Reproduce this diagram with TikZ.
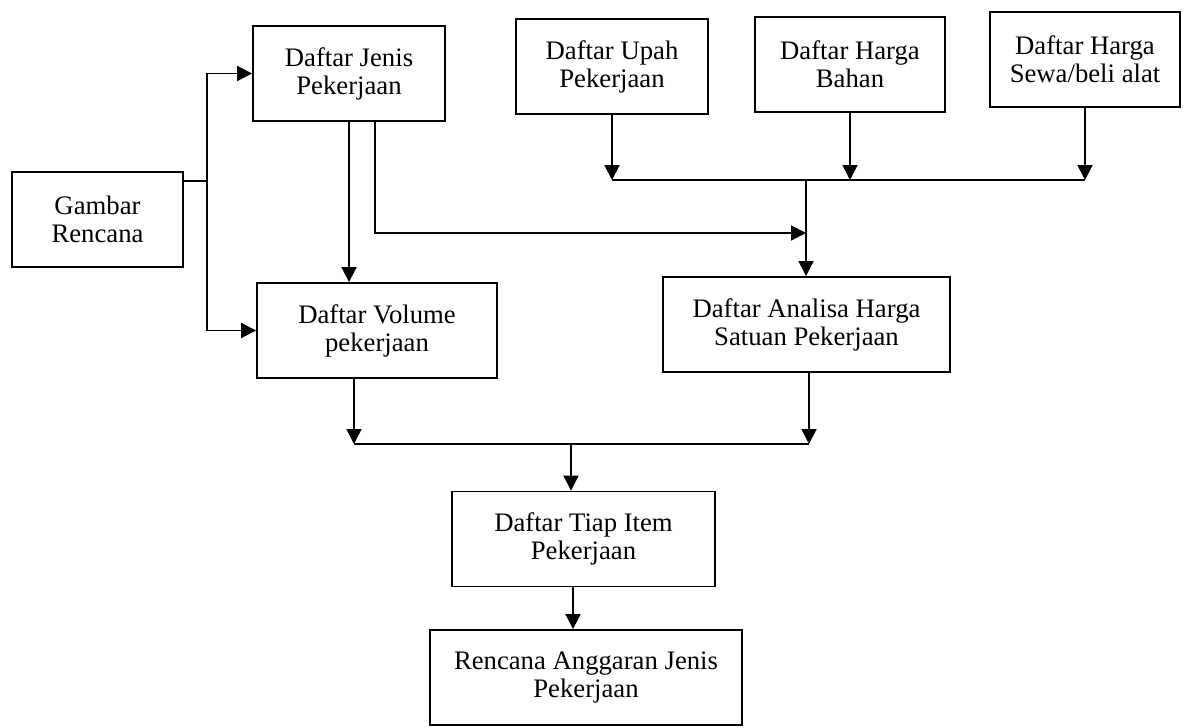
\documentclass[tikz,border=0pt]{standalone}
\usepackage{fontspec}
\setmainfont{Liberation Serif}
\usetikzlibrary{arrows.meta}
\tikzstyle{box}=[draw,line width=1.1pt,minimum height=1.9cm,align=center,inner sep=0pt,font=\fontsize{15.2}{15.9}\selectfont]
\tikzstyle{arr}=[-{Triangle[length=8.5pt,width=8.5pt]}]

\begin{document}
\begin{tikzpicture}[x=0.02cm,y=-0.02cm,line width=1.1pt]
        \useasboundingbox (0,0) rectangle (1189,727);
        \node[box,minimum width=3.42cm] (gambar) at (97.5,219.5) {Gambar\\Rencana};
        \node[box,minimum width=3.84cm] (jenis) at (349,73.5) {Daftar Jenis\\Pekerjaan};
        \node[box,minimum width=3.84cm] (upah) at (612,66.5) {Daftar Upah\\Pekerjaan};
        \node[box,minimum width=3.80cm] (bahan) at (850,64.5) {Daftar Harga\\Bahan};
        \node[box,minimum width=3.80cm] (sewa) at (1085,59.5) {Daftar Harga\\Sewa/beli alat};
        \node[box,minimum width=4.80cm] (volume) at (377,330.5) {Daftar Volume\\pekerjaan};
        \node[box,minimum width=5.74cm] (analisa) at (806.5,324.5) {Daftar Analisa Harga\\Satuan Pekerjaan};
        \node[box,minimum width=5.26cm] (tiap) at (583.5,539) {Daftar Tiap Item\\Pekerjaan};
        \node[box,minimum width=6.24cm] (rencana) at (586,677.5) {Rencana Anggaran Jenis\\Pekerjaan};
        \coordinate (gsplit) at (207,181);
        \coordinate (tbus) at (806,180);
        \coordinate (jtip) at (806,233);
        \coordinate (vdrop) at (354,444);
        \coordinate (adrop) at (809,444);
        \coordinate (bbus) at (571,444);
        \draw (gambar.east |- gsplit) -- (gsplit);
        \draw[arr] (gsplit) |- (jenis.west);
        \draw[arr] (gsplit) |- (volume.west);
        \draw[arr] (jenis.south) -- (jenis.south |- volume.north);
        \draw[arr] ([xshift=0.52cm]jenis.south) |- (jtip);
        \draw[arr] (upah.south) -- (upah.south |- tbus);
        \draw[arr] (bahan.south) -- (bahan.south |- tbus);
        \draw[arr] (sewa.south) -- (sewa.south |- tbus);
        \draw (upah.south |- tbus) -- (sewa.south |- tbus);
        \draw[arr] (tbus) -- (tbus |- analisa.north);
        \draw[arr] (vdrop |- volume.south) -- (vdrop);
        \draw[arr] (adrop |- analisa.south) -- (adrop);
        \draw (vdrop) -- (adrop);
        \draw[arr] (bbus) -- (bbus |- tiap.north);
        \draw[arr] ([xshift=-0.21cm]tiap.south) coordinate (tdrop) -- (tdrop |- rencana.north);
    \end{tikzpicture}
\end{document}
